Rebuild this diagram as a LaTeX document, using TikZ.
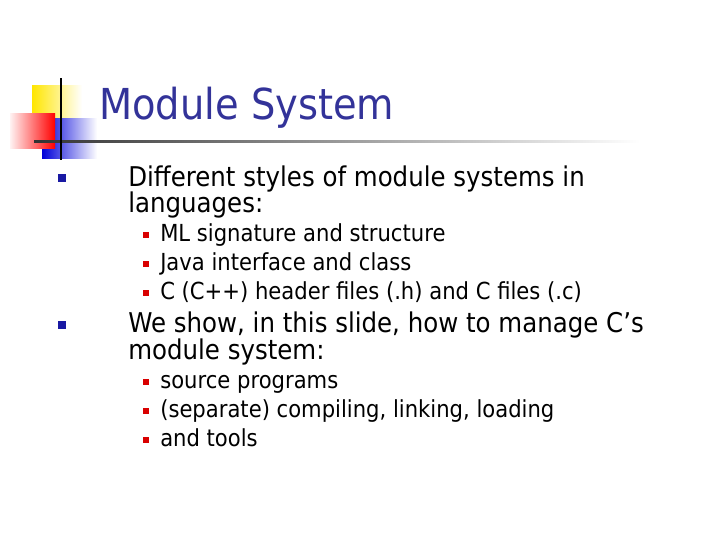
\documentclass[tikz,border=0pt]{standalone}
\usepackage{fontspec}
\setmainfont[FakeStretch=0.9]{DejaVu Sans}
\begin{document}
\begin{tikzpicture}[x=0.75pt,y=-0.75pt,
  lvlone/.style={anchor=base west,inner sep=0,font=\fontsize{20.4}{22}\selectfont},
  lvltwo/.style={anchor=base west,inner sep=0,font=\fontsize{17.6}{19}\selectfont},
  bone/.style={fill=blue!60!black!90},
  btwo/.style={fill=red!85!black}]
\useasboundingbox (0,0) rectangle (720,540);
\definecolor{ttl}{RGB}{51,51,153}
% logo
\shade[left color=yellow!80!orange,right color=white] (32,85) rectangle (82,118);
\shade[left color=blue!85!black,right color=white] (42,118) rectangle (97,158);
\shade[right color=red,left color=red!5] (10,113) rectangle (55,148);
\shade[left color=black!80,right color=white] (34,140) rectangle (640,142.5);
\draw[line width=2.2pt] (61,78) -- (61,160);
% title
\node[anchor=base west,inner sep=0,text=ttl,font=\fontsize{32}{36}\selectfont] (title) at (99,119) {Module System};
% bullets
\fill[bone] (58,174) rectangle (66,182);
\node[lvlone] (t1) at (128,186) {Different styles of module systems in};
\node[lvlone] (t1b) at (128,212) {languages:};
\foreach \y/\t [count=\i] in {241/ML signature and structure,270/Java interface and class,299/C (C++) header files (.h) and C files (.c)}{
  \fill[btwo] (143,\y-9) rectangle (149,\y-3);
  \node[lvltwo] (s\i) at (160,\y) {\t};
}
\fill[bone] (58,321) rectangle (66,329);
\node[lvlone] (t2) at (128,332) {We show, in this slide, how to manage C’s};
\node[lvlone] (t2b) at (128,359) {module system:};
\foreach \y in {388,417,446}{
  \fill[btwo] (143,\y-9) rectangle (149,\y-3);
}
\node[lvltwo] (u1) at (160,388) {source programs};
\node[lvltwo] (u2) at (160,417) {(separate) compiling, linking, loading};
\node[lvltwo] (u3) at (160,446) {and tools};
\end{tikzpicture}
\end{document}
